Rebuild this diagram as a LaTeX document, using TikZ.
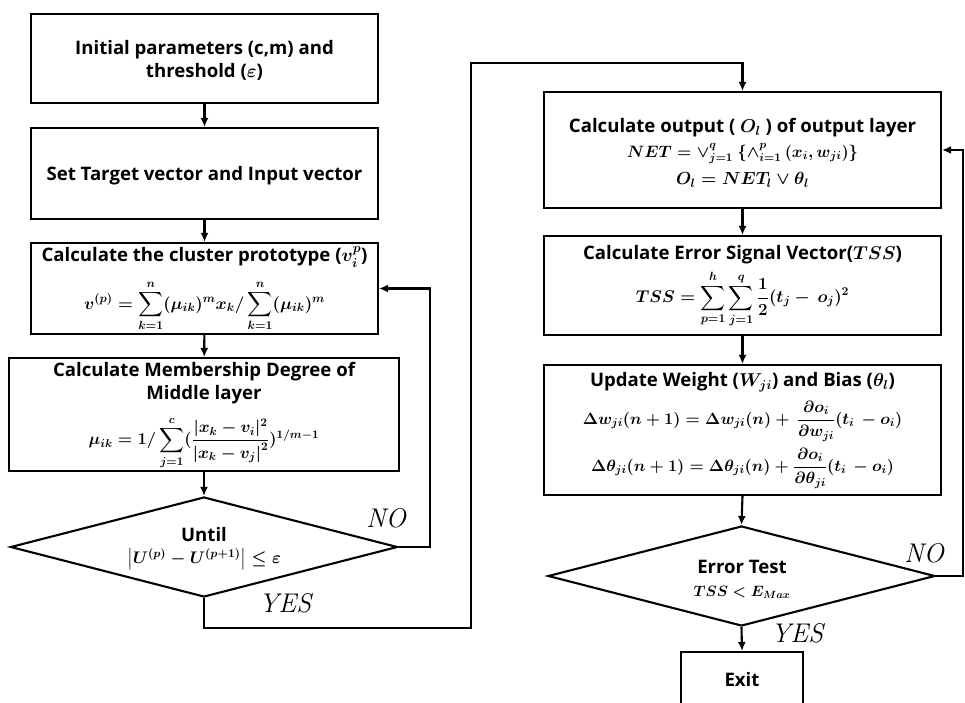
\RequirePackage{fix-cm}
\documentclass[tikz,border=0pt]{standalone}
\usepackage{amsmath}
\usepackage{fontspec}
\newfontfamily\boxfont{Open Sans}
\usetikzlibrary{shapes.geometric,arrows.meta}
\newcommand{\msz}[1]{\fontsize{#1}{#1}\selectfont}
\begin{document}
\begin{tikzpicture}[x=1pt,y=-1pt,
  every node/.style={font=\boxfont\bfseries\fontsize{18.6}{23}\selectfont\boldmath},
  procbox/.style={draw,line width=2.1pt,rectangle,inner sep=0pt},
  decbox/.style={draw,line width=2.1pt,diamond,inner sep=0pt},
  txt/.style={align=center,inner sep=0pt},
  arr/.style={line width=2.1pt,-{Latex[length=9pt,width=8pt]}},
  yn/.style={font=\rmfamily\itshape\fontsize{27}{30}\selectfont,inner sep=0pt}]
\clip (0,0) rectangle (965,702);
\fill[white] (0,0) rectangle (965,702);
% ---------------- left column
\node[procbox,minimum width=347,minimum height=89] (b1) at (204.5,58.5) {};
\node[txt] (t1) at (204.5,60) {Initial parameters (c,m) and\\threshold ($\varepsilon$)};
\node[procbox,minimum width=347,minimum height=91] (b2) at (204.5,173.5) {};
\node[txt] (t2) at (204.5,176) {Set Target vector and Input vector};
\node[procbox,minimum width=347,minimum height=91] (b3) at (204.5,288.5) {};
\node[txt] (t3a) at (204.5,257) {Calculate the cluster prototype ($v_i^p$)};
\node[txt] (t3b) at (204.5,306) {\msz{17}$\displaystyle v^{(p)}=\sum_{k=1}^{n}(\mu_{ik})^m x_k/\sum_{k=1}^{n}(\mu_{ik})^m$};
\node[procbox,minimum width=390,minimum height=113] (b4) at (204,414.5) {};
\node[txt] (t4a) at (204,383) {Calculate Membership Degree of\\Middle layer};
\node[txt] (t4b) at (204,443) {\msz{16.5}$\displaystyle \mu_{ik}=1/\sum_{j=1}^{c}(\frac{|x_k-v_i|^2}{\left|x_k-v_j\right|^2})^{1/m-1}$};
\node[decbox,minimum width=387,minimum height=100] (d1) at (204,547) {};
\node[txt] (t5a) at (204,535) {Until};
\node[txt] (t5b) at (204,559) {\msz{16.8}$\left|U^{(p)}-U^{(p+1)}\right|\le\varepsilon$};
% ---------------- right column
\node[procbox,minimum width=397,minimum height=116] (b5) at (742.5,150) {};
\node[txt] (t6a) at (742.5,128) {Calculate output ( $O_l$ ) of output layer};
\node[txt] (t6b) at (742.5,154) {\msz{16.5}$NET={\vee}_{j=1}^{q}\ \{{\wedge}_{i=1}^{p}\,(x_i,w_{ji})\}$};
\node[txt] (t6c) at (742.5,180) {\msz{17.5}$O_l=NET_l\vee\theta_l$};
\node[procbox,minimum width=397,minimum height=99] (b6) at (742.5,285.5) {};
\node[txt] (t7a) at (742.5,255) {Calculate Error Signal Vector($TSS$)};
\node[txt] (t7b) at (742.5,299) {\msz{17}$\displaystyle TSS=\sum_{p=1}^{h}\sum_{j=1}^{q}\frac{1}{2}(t_j-\,o_j)^2$};
\node[procbox,minimum width=397,minimum height=130] (b7) at (742.5,430) {};
\node[txt] (t8a) at (742.5,382) {Update Weight ($W_{ji}$) and Bias ($\theta_l$)};
\node[txt] (t8b) at (742.5,421) {\msz{16.3}$\displaystyle \Delta w_{ji}(n+1)=\Delta w_{ji}(n)+\,\frac{\partial o_i}{\partial w_{ji}}(t_i\,-o_i)$};
\node[txt] (t8c) at (742.5,468) {\msz{16.3}$\displaystyle \Delta\theta_{ji}(n+1)=\Delta\theta_{ji}(n)+\frac{\partial o_i}{\partial\theta_{ji}}(t_i\,-o_i)$};
\node[decbox,minimum width=387,minimum height=100] (d2) at (741.5,576) {};
\node[txt] (t9a) at (742,567) {Error Test};
\node[txt] (t9b) at (742,592) {\msz{15}$TSS<E_{Max}$};
\node[procbox,minimum width=122,minimum height=58] (ex) at (742,681) {};
\node[txt] (t10) at (742,680) {Exit};
% ---------------- connectors
\draw[arr] (b1) -- (b2);
\draw[arr] (b2) -- (b3);
\draw[arr] (b3) -- (b4);
\draw[arr] (b4.south) -- (d1.north);
\coordinate (n1) at (430,547);
\draw[arr] (d1.east) -- (n1) |- (b3.east);
\coordinate (ya) at (471,628);
\coordinate (yb) at (471,63);
\draw[arr] (d1.south) |- (ya) -- (yb) -| (b5.north);
\draw[arr] (b5) -- (b6);
\draw[arr] (b6) -- (b7);
\draw[arr] (b7.south) -- (d2.north);
\draw[arr] (d2.south) -- (ex.north);
\coordinate (n2) at (963,576);
\draw[arr] (d2.east) -- (n2) |- (b5.east);
% ---------------- labels
\node[yn] (no1) at (386,518) {NO};
\node[yn] (yes1) at (285,603) {YES};
\node[yn] (no2) at (924,553) {NO};
\node[yn] (yes2) at (797,633) {YES};
\end{tikzpicture}
\end{document}
